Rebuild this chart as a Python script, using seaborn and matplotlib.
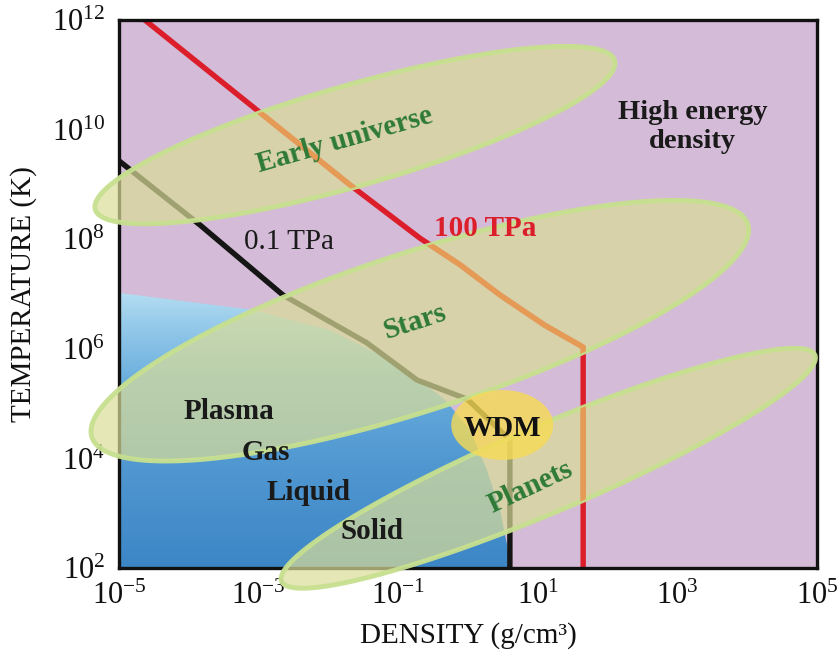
import numpy as np
import seaborn as sns
import matplotlib.pyplot as plt
from matplotlib.colors import LinearSegmentedColormap
from matplotlib.patches import Polygon

sns.set_theme(style="white")
plt.rcParams['font.family'] = ['Liberation Serif', 'DejaVu Serif']
plt.rcParams['mathtext.fontset'] = 'custom'
plt.rcParams['mathtext.rm'] = 'Liberation Serif'
plt.rcParams['mathtext.default'] = 'rm'

# pressure isobars (log10 density, log10 temperature)
iso_hi_logx = [-4.63, -2.94, -1.69, -0.69, -0.11, 0.46, 1.10, 1.65, 1.65]
iso_hi_logt = [12.0, 10.27, 8.99, 8.02, 7.53, 6.98, 6.43, 6.03, 2.0]
iso_lo_logx = [-5.0, -3.84, -2.65, -1.45, -0.73, -0.01, 0.60, 0.60]
iso_lo_logt = [9.43, 8.26, 6.98, 6.11, 5.43, 5.08, 4.34, 2.0]

# ordinary matter region (blue)
blue_logx = [-5.0, -3.08, -1.98, -0.97, -0.33, 0.03, 0.27, 0.46, 0.56, 0.60, -5.0]
blue_logt = [7.02, 6.71, 6.34, 5.70, 5.07, 4.52, 3.79, 3.06, 2.42, 2.0, 2.0]

# regimes: centre (log density, log T), half length / half width (decades), tilt (deg)
zone_names = ["Early universe", "Stars", "Planets"]
zone_logx = [-1.62, -0.69, 1.15]
zone_logt = [9.90, 6.33, 3.82]
zone_len = [3.87, 4.94, 4.15]
zone_wid = [0.72, 1.13, 0.62]
zone_tilt = [16, 18, 23]

wdm_logx, wdm_logt, wdm_len, wdm_wid = 0.49, 4.61, 0.73, 0.50

# labels
label_text = ["Early universe", "Stars", "Planets"]
label_logx = [-1.76, -0.76, 0.89]
label_logt = [9.81, 6.49, 3.48]
label_rot = [16, 18, 25]

phase_text = ["Plasma", "Gas", "Liquid", "Solid"]
phase_logx = [-3.42, -2.89, -2.28, -1.38]
phase_logt = [4.85, 4.10, 3.37, 2.66]

x_ticks = [-5, -3, -1, 1, 3, 5]
y_ticks = [2, 4, 6, 8, 10, 12]

PURPLE = "#d4bbd7"
RED = "#dc1e2b"
ORANGE = "#e59a55"
GREEN_TXT = "#2e7a37"

fig = plt.figure(figsize=(8.4, 6.5), dpi=100)
ax = fig.add_axes([119 / 840, 82 / 650, 698 / 840, 548 / 650])
ax.set_xscale('log')
ax.set_yscale('log')
ax.set_xlim(1e-5, 1e5)
ax.set_ylim(1e2, 1e12)
ax.set_autoscale_on(False)
ax.set_facecolor(PURPLE)

bb = ax.get_window_extent()
aspect = (bb.height / 10) / (bb.width / 10)


def pw(v):
    return np.power(10.0, np.asarray(v, dtype=float))


def blob(cx, cy, a, b, ang):
    t = np.linspace(0, 2 * np.pi, 240)
    th = np.radians(ang)
    du = a * np.cos(t) * np.cos(th) - b * np.sin(t) * np.sin(th)
    dv = a * np.cos(t) * np.sin(th) + b * np.sin(t) * np.cos(th)
    return np.column_stack([pw(cx + du), pw(cy + dv / aspect)])


# blue region with vertical gradient
blue_cmap = LinearSegmentedColormap.from_list(
    "blues", [(0.0, "#3d86c6"), (0.2, "#5299d2"), (0.34, "#6aaedd"),
              (0.44, "#94c9ea"), (0.5, "#b3dcf2"), (1.0, "#b3dcf2")])
grad = np.linspace(0, 1, 256).reshape(-1, 1)
img = ax.imshow(grad, extent=[0, 1, 0, 1], transform=ax.transAxes, origin='lower',
                cmap=blue_cmap, aspect='auto', zorder=1, interpolation='bilinear')
blue_poly = Polygon(np.column_stack([pw(blue_logx), pw(blue_logt)]), closed=True,
                    facecolor='none', edgecolor='none', transform=ax.transData)
ax.add_patch(blue_poly)
img.set_clip_path(blue_poly)

# isobars
sns.lineplot(x=pw(iso_hi_logx), y=pw(iso_hi_logt), sort=False, estimator=None,
             color=RED, lw=3.9, ax=ax, zorder=2)
sns.lineplot(x=pw(iso_lo_logx), y=pw(iso_lo_logt), sort=False, estimator=None,
             color="#151515", lw=3.9, ax=ax, zorder=2)

# regime ellipses
for i in range(len(zone_names)):
    pts = blob(zone_logx[i], zone_logt[i], zone_len[i], zone_wid[i], zone_tilt[i])
    ax.add_patch(Polygon(pts, closed=True, facecolor=(219 / 255, 221 / 255, 152 / 255, 0.7),
                         edgecolor=(0.78, 0.88, 0.56, 0.95), lw=3.5, zorder=3, clip_on=False))
    # the hot isobar shows orange where it passes under a regime
    inside = Polygon(pts, closed=True, transform=ax.transData)
    seg, = ax.plot(pw(iso_hi_logx), pw(iso_hi_logt), color=ORANGE, lw=3.9, zorder=3.2)
    seg.set_clip_path(inside)

ax.add_patch(Polygon(blob(wdm_logx, wdm_logt, wdm_len, wdm_wid, 0), closed=True,
                     facecolor=(247 / 255, 219 / 255, 84 / 255, 0.8), edgecolor='none',
                     zorder=3.5, clip_on=False))

# text
for s, lx, lt, r in zip(label_text, label_logx, label_logt, label_rot):
    ax.text(10 ** lx, 10 ** lt, s, color=GREEN_TXT, fontsize=21, fontweight='bold',
            rotation=r, ha='center', va='center', rotation_mode='anchor', zorder=5)
for s, lx, lt in zip(phase_text, phase_logx, phase_logt):
    ax.text(10 ** lx, 10 ** lt, s, color="#1a1a1a", fontsize=21, fontweight='bold',
            ha='center', va='center', zorder=5)
ax.text(10 ** wdm_logx, 10 ** 4.55, "WDM", color="#111111", fontsize=21, fontweight='bold',
        ha='center', va='center', zorder=5)
ax.text(10 ** 3.22, 10 ** 10.05, "High energy\ndensity", color="#1a1a1a", fontsize=20.5,
        fontweight='bold', ha='center', va='center', linespacing=1.2, zorder=5)
ax.text(10 ** 0.24, 10 ** 8.19, "100 TPa", color=RED, fontsize=21, fontweight='bold',
        ha='center', va='center', zorder=5)
ax.text(10 ** -2.56, 10 ** 7.95, "0.1 TPa", color="#1a1a1a", fontsize=21,
        ha='center', va='center', zorder=5)

# axes styling
ax.set_xticks(pw(x_ticks))
ax.set_yticks(pw(y_ticks))
ax.set_xticklabels([f"$10^{{{v}}}$".replace("-", "−") for v in x_ticks])
ax.set_yticklabels([f"$10^{{{v}}}$" for v in y_ticks])
ax.minorticks_off()
ax.tick_params(axis='both', which='major', direction='out', length=7, width=2.4,
               labelsize=22, colors="#111111", pad=3)
for sp in ax.spines.values():
    sp.set_linewidth(2.4)
    sp.set_color("#111111")
    sp.set_zorder(2.5)

ax.set_xlabel("DENSITY (g/cm³)", fontsize=21, color="#111111")
ax.set_ylabel("TEMPERATURE (K)", fontsize=21, color="#111111")
ax.xaxis.set_label_coords(0.5, -0.098)
ax.yaxis.set_label_coords(-0.118, 0.5)

fig.savefig("out.png", dpi=100)
